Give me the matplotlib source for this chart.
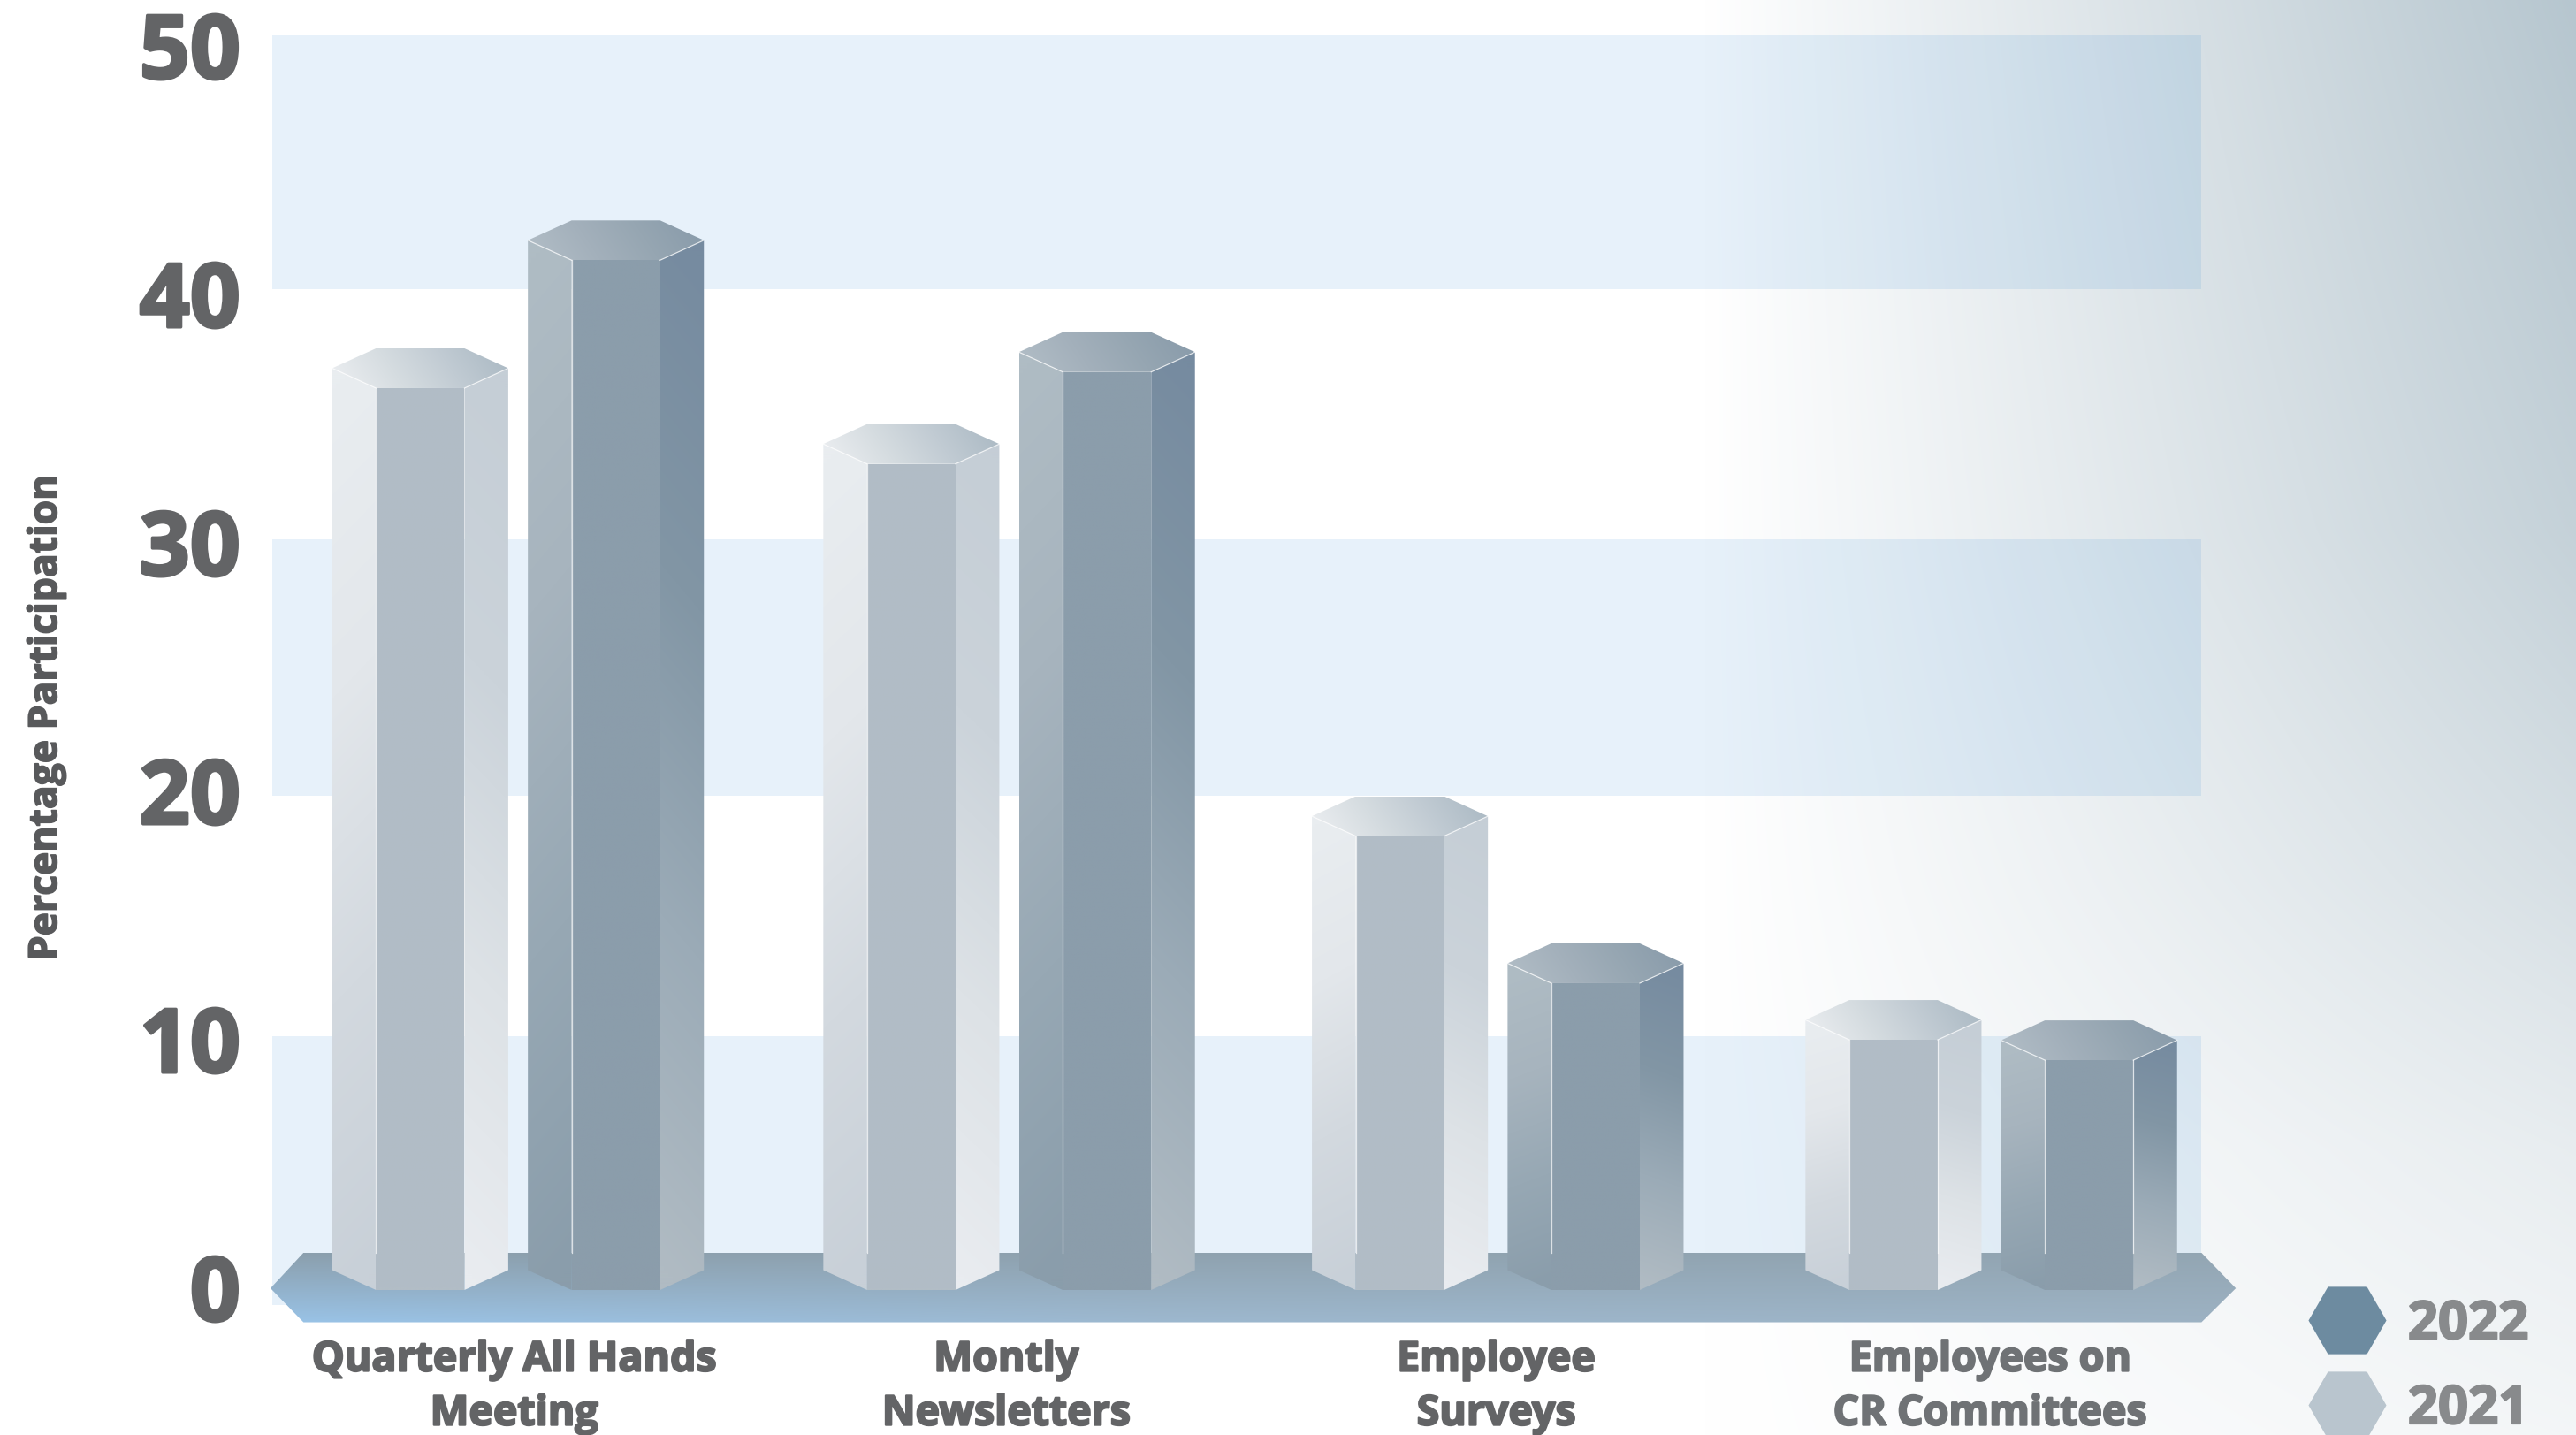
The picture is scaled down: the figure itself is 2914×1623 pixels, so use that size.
import numpy as np
import matplotlib
matplotlib.use('Agg')
import matplotlib.pyplot as plt
import matplotlib.patheffects as pe
from matplotlib.colors import to_rgb
from matplotlib.lines import Line2D
from matplotlib.patches import Polygon, Rectangle
from matplotlib.transforms import ScaledTranslation

# Datos del grafico
categorias = ['Quarterly All Hands\nMeeting', 'Montly\nNewsletters',
              'Employee\nSurveys', 'Employees on\nCR Committees']
posiciones = [0, 0.999, 1.993, 2.997]
ticks_x = [-0.008, 0.993, 1.990, 2.995]
valores_2021 = [36.3, 33.25, 18.27, 10.07]
valores_2022 = [41.45, 36.95, 12.35, 9.25]
ticks_y = [0, 10, 20, 30, 40, 50]
franjas = [(40.3, 50.5), (19.9, 30.2), (-0.6, 10.2)]

# Geometria de las columnas hexagonales, en unidades de los ejes
DESPL = 0.199
MEDIO_ANCHO = 0.179
MEDIA_CARA = 0.090
FONDO = 0.8

GRIS = '#636466'
FUENTE = 'Open Sans'

plt.rcParams['font.family'] = [FUENTE, 'DejaVu Sans']
plt.rcParams['font.weight'] = 'bold'

colores = {
    2021: {'izq': ['#e9edf0', '#e3e7eb', '#d3d9df', '#c8d0d8'],
           'frente': ['#b1bcc6', '#b2bdc6'],
           'der': ['#c5ced6', '#cbd3da', '#dde2e6', '#e9ecf0'],
           'tapa': ['#e9ecef', '#d5dce0', '#c1cbd3', '#adbbc5']},
    2022: {'izq': ['#afbcc4', '#a7b4be', '#97a8b4', '#8a9dab'],
           'frente': ['#8b9dab', '#8b9dab'],
           'der': ['#768ba0', '#8296a5', '#9babb7', '#b0bbc3'],
           'tapa': ['#b0bcc5', '#a3b0bb', '#96a6b2', '#8a9cab']},
}


def degradado(paleta, vertical=True, inclinacion=0.0, n=200):
    ''' Arma una imagen RGB con un degradado entre los colores de la paleta '''
    stops = np.array([to_rgb(c) for c in paleta])
    pos = np.linspace(0, 1, len(paleta))
    u, v = np.meshgrid(np.linspace(0, 1, n), np.linspace(0, 1, n))
    t = v if vertical else u
    t = np.clip(t + inclinacion * ((v if not vertical else u) - 0.5), 0, 1)
    return np.dstack([np.interp(t, pos, stops[:, i]) for i in range(3)])


def cara(ax, verts, img, z):
    ''' Pinta una imagen recortada al poligono verts '''
    verts = np.array(verts)
    ext = [verts[:, 0].min(), verts[:, 0].max(), verts[:, 1].min(), verts[:, 1].max()]
    im = ax.imshow(img, extent=ext, aspect='auto', origin='upper',
                   interpolation='bilinear', zorder=z)
    # La plataforma se sale de los ejes: se recorta con la figura y el poligono
    im.set_clip_box(ax.figure.bbox)
    im.set_clip_path(Polygon(verts, transform=ax.transData))


def columna(ax, x, v, pal, z, linea_der=False):
    ''' Dibuja una columna hexagonal de altura v centrada en x '''
    xl, xf, xg, xr = x - MEDIO_ANCHO, x - MEDIA_CARA, x + MEDIA_CARA, x + MEDIO_ANCHO
    cara(ax, [(xl, FONDO), (xf, 0), (xf, v), (xl, v + FONDO)],
         degradado(pal['izq'], inclinacion=0.05), z)
    cara(ax, [(xf, 0), (xg, 0), (xg, v), (xf, v)], degradado(pal['frente']), z)
    cara(ax, [(xg, 0), (xr, FONDO), (xr, v + FONDO), (xg, v)],
         degradado(pal['der'], inclinacion=-0.05), z)
    cara(ax, [(xl, v + FONDO), (xf, v), (xg, v), (xr, v + FONDO),
              (xg, v + 2 * FONDO), (xf, v + 2 * FONDO)],
         degradado(pal['tapa'], vertical=False, inclinacion=-0.15), z)
    # Aristas claras
    estilo = dict(color='white', lw=0.9, alpha=0.7, zorder=z + 1, clip_on=False)
    ax.plot([xf, xf], [1.5, v], **estilo)
    ax.plot([xl, xf], [v + FONDO, v], **estilo)
    ax.plot([xr, xg], [v + FONDO, v], **estilo)
    if linea_der:
        ax.plot([xg, xg], [1.5, v], **estilo)


def engrosar(texto, ancho, color):
    ''' Refuerza el trazo de un texto para acercarlo a un peso black '''
    texto.set_path_effects([pe.withStroke(linewidth=ancho, foreground=color)])


fig = plt.figure(figsize=(29.14, 16.24), dpi=100)

# Fondo con degradado hacia la derecha, mas oscuro arriba
fondo = fig.add_axes([0, 0, 1, 1], zorder=0)
fondo.axis('off')
xx, yy = np.meshgrid(np.arange(2914), np.arange(1624))
fx = np.clip((xx - 1928) / 986, 0, 1)
fy = np.interp(yy, [0, 600, 1000, 1300, 1624], [1.0, 0.8, 0.55, 0.32, 0.16])
oscuro = np.array([73, 57, 48]) / 255
img_fondo = 1 - (fx * fy)[..., None] * oscuro
fondo.imshow(img_fondo, aspect='auto', interpolation='bilinear')

ax = fig.add_axes([308 / 2914, 164 / 1624, 2182 / 2914, 1405 / 1624], zorder=1)
ax.patch.set_alpha(0)

# Franjas horizontales
for y0, y1 in franjas:
    ax.add_patch(Rectangle((-0.5, y0), 3.924, y1 - y0, facecolor=(0, 0.43, 0.80),
                           alpha=0.095, lw=0, zorder=1, clip_on=False))

# Plataforma de la base
base = [(-0.5036, 0.07), (-0.4365, 1.5), (3.4245, 1.5), (3.4946, 0.07),
        (3.4245, -1.3), (-0.4365, -1.3)]
arriba = np.array([to_rgb(c) for c in ['#8b9fad', '#8fa2af', '#93a6b3']])
abajo = np.array([to_rgb(c) for c in ['#99c3e7', '#9db8cf', '#9db2c3']])
pos_x = [0, 0.45, 1]
u, v = np.meshgrid(np.linspace(0, 1, 400), np.linspace(0, 1, 60))
img_base = np.dstack([np.interp(u, pos_x, arriba[:, i]) * (1 - v)
                      + np.interp(u, pos_x, abajo[:, i]) * v for i in range(3)])
cara(ax, base, img_base, 2)

# Columnas
for i, x in enumerate(posiciones):
    columna(ax, x - DESPL, valores_2021[i], colores[2021], 3, linea_der=i == 3)
    columna(ax, x + DESPL, valores_2022[i], colores[2022], 3, linea_der=i == 3)

ax.set_xlim(-0.5, 3.424)
ax.set_ylim(0, 50)
for s in ax.spines.values():
    s.set_visible(False)

ax.set_yticks(ticks_y)
ax.set_yticklabels([str(t) for t in ticks_y], fontsize=72, color=GRIS)
ax.set_xticks(ticks_x)
ax.set_xticklabels(categorias, fontsize=33.5, color=GRIS, linespacing=1.39)
ax.get_xticklabels()[3].set_color('#6f7275')
ax.tick_params(axis='y', length=0, pad=26)
ax.tick_params(axis='x', length=0, pad=40)

subir = ScaledTranslation(0, 3.7 / 100, fig.dpi_scale_trans)
for t in ax.get_yticklabels():
    t.set_transform(t.get_transform() + subir)
    engrosar(t, 2.5, GRIS)
for t in ax.get_xticklabels():
    engrosar(t, 1.6, t.get_color())

etiqueta = ax.set_ylabel('Percentage Participation', fontsize=32, color='#58595b',
                         fontweight='bold')
engrosar(etiqueta, 1.2, '#58595b')
ax.yaxis.set_label_coords(-233 / 2182, 0.461)

# Leyenda
marcas = [Line2D([], [], marker='H', ls='', ms=63.4, mew=0, color='#6d8ba0'),
          Line2D([], [], marker='H', ls='', ms=63.4, mew=0, color='#b9c5ce')]
ley = ax.legend(marcas, ['2022', '2021'], loc='lower left', frameon=False,
                bbox_to_anchor=(2611 / 2914, -2 / 1624), bbox_transform=fig.transFigure,
                fontsize=43, labelcolor='#888a8c', borderpad=0, borderaxespad=0,
                handlelength=1.48, handletextpad=0.41, labelspacing=0.58)
for t in ley.get_texts():
    engrosar(t, 1.6, '#888a8c')

fig.savefig('out.png', dpi=100)
plt.close(fig)
